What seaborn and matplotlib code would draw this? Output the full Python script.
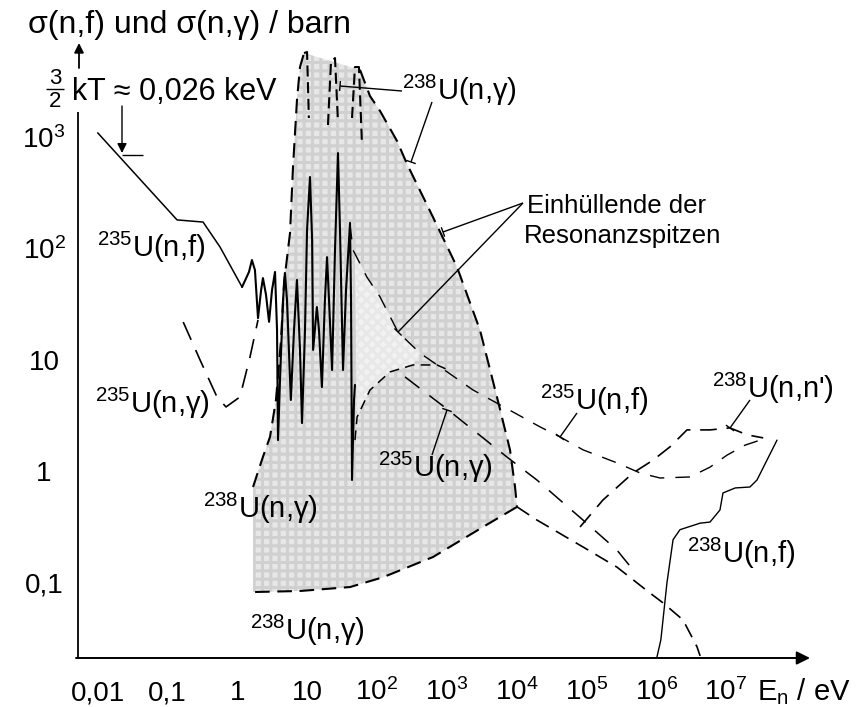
import numpy as np
import pandas as pd
import matplotlib
matplotlib.use("Agg")
import matplotlib.pyplot as plt
import seaborn as sns
from matplotlib.lines import Line2D
from matplotlib.ticker import NullLocator

# ---------------- data (E in eV, sigma in barn) ----------------
# 235U(n,f): thermal 1/v part and resolved resonances (solid)
u235f_low_E = [0.010, 0.137, 0.323, 0.565, 1.17]
u235f_low_s = [1120, 184, 176, 105, 45.7]
u235f_res_E = [1.17, 1.47, 1.62, 1.79, 1.98, 2.19, 2.33, 2.58, 2.85, 3.14, 3.47, 3.71, 3.83,
               4.09, 4.52, 4.81, 5.15, 5.85, 6.49, 7.16, 7.91, 8.45, 9.33, 9.98, 11.0, 11.8,
               12.2, 13.8, 14.8, 16.3, 18.0, 19.3, 20.6, 22.8, 25.1, 27.7, 29.6, 32.7, 36.1,
               41.2, 42.6, 44.0, 47.0, 48.5]
u235f_res_s = [45.7, 62.5, 80, 65, 24, 42.7, 55, 38.8, 22.2, 42.7, 62.5, 18.7, 1.91,
               6.65, 34.9, 61.3, 34.9, 4.39, 18.7, 53, 12.4, 2.72, 18.7, 149, 448, 121,
               12.4, 30.2, 18.7, 5.74, 34.9, 85, 34.9, 8.18, 98.6, 736, 149, 8.18, 42.7,
               173, 34.9, 0.835, 4.39, 6.0]
# 235U(n,gamma) at low energy (long dashes)
u235g_low_E = [0.168, 0.292, 0.512, 0.689, 1.09, 1.52, 1.98]
u235g_low_s = [22.1, 10.1, 4.67, 3.8, 4.67, 10.7, 23.1]
# 238U(n,gamma): envelope of resonance peaks (shaded region)
env238_left_E = [1.68, 2.33, 2.94, 3.58, 4.23, 4.67, 5.69, 6.28, 7.16, 7.91, 9.03]
env238_left_s = [0.722, 1.35, 2.04, 4.39, 15.3, 49.7, 140, 552, 2213, 4385, 5860]
env238_right_E = [57.3, 79.6, 111, 194, 270, 577, 1404, 3000, 5250, 8070, 9530, 10170]
env238_right_s = [4140, 2404, 1762, 947, 587, 221, 69.3, 18.7, 4.67, 1.56, 0.722, 0.478]
env238_bot_E = [10170, 3310, 637, 122, 41.2, 7.91, 1.68]
env238_bot_s = [0.478, 0.315, 0.169, 0.111, 0.0906, 0.0835, 0.0817]
# 238U(n,gamma) giant resonances (dashed)
pk1_E = [9.03, 9.98, 10.6]
pk1_s = [5860, 5990, 1524]
pk2_E = [19.9, 22.0, 25.1, 27.7]
pk2_s = [1318, 4864, 5284, 1403]
pk3_E = [44.0, 48.5, 55.3, 61.2]
pk3_s = [1524, 4385, 4385, 871]
# 235U(n,f): envelope of resonance peaks and continuation
u235f_hi_E = [41.2, 45.5, 71.9, 111, 200, 415, 804, 2387, 21800, 42100, 89900, 2.76e5,
              5.89e5, 1.14e6, 3.06e6, 5.92e6, 1.04e7, 1.88e7, 3.86e7]
u235f_hi_s = [166, 98.6, 56.2, 37.2, 18.0, 11.6, 8.71, 5.40, 2.51, 2.04, 1.56, 1.19,
              0.966, 0.870, 0.889, 1.09, 1.40, 1.72, 2.0]
# averaged curve rising out of the resonance region
hump_E = [48.5, 52.0, 79.6, 154, 329, 726, 1009]
hump_s = [1.91, 3.08, 5.40, 7.86, 9.08, 9.08, 8.28]
# 235U(n,gamma) above the resonance region
u235g_hi_E = [253, 1009, 7240, 19600, 89600, 2.75e5, 5.32e5]
u235g_hi_s = [7.08, 3.64, 1.35, 0.835, 0.364, 0.195, 0.117]
# 238U(n,gamma) above the resonance region
u238g_hi_E = [10170, 19600, 89800, 2.75e5, 8.18e5, 1.26e6, 2.43e6, 3.86e6, 4.27e6]
u238g_hi_s = [0.478, 0.364, 0.208, 0.137, 0.080, 0.0652, 0.0458, 0.0262, 0.0217]
# 238U(n,n')
u238nn_E = [81300, 1.73e5, 4.67e5, 9.03e5, 1.58e6, 2.77e6, 5.92e6, 1.14e7, 2.02e7, 3.42e7]
u238nn_s = [0.315, 0.551, 0.966, 1.26, 1.66, 2.36, 2.36, 2.46, 2.13, 2.0]
# 238U(n,f)
u238f_E = [1.03e6, 1.17e6, 1.43e6, 1.75e6, 2.20e6, 4.27e6, 5.92e6, 8.22e6, 9.08e6,
           1.36e7, 2.21e7, 2.79e7, 5.40e7]
u238f_s = [0.0213, 0.0303, 0.0988, 0.242, 0.298, 0.341, 0.349, 0.448, 0.638,
           0.708, 0.722, 0.835, 1.91]

xtick_vals = [1e-2, 1e-1, 1, 10, 1e2, 1e3, 1e4, 1e5, 1e6, 1e7]
xtick_labels = ["0,01", "0,1", "1", "10", "10$^2$", "10$^3$", "10$^4$", "10$^5$", "10$^6$", "10$^7$"]
ytick_vals = [0.1, 1, 10, 100, 1000]
ytick_labels = ["0,1", "1", "10", "10$^2$", "10$^3$"]

# ---------------- style ----------------
sns.set_style("white")
plt.rcParams["font.family"] = ["Liberation Sans", "DejaVu Sans"]
plt.rcParams["mathtext.fontset"] = "custom"
plt.rcParams["mathtext.rm"] = "Liberation Sans"
plt.rcParams["mathtext.it"] = "Liberation Sans:italic"
plt.rcParams["mathtext.bf"] = "Liberation Sans:bold"
plt.rcParams["lines.scale_dashes"] = False
plt.rcParams["text.color"] = "black"

W, H = 868, 707
fig = plt.figure(figsize=(W / 100, H / 100), dpi=100)
fig.patch.set_facecolor("white")
AX_L, AX_R, AX_T, AX_B = 76, 810, 43, 658
ax = fig.add_axes([AX_L / W, 1 - AX_B / H, (AX_R - AX_L) / W, (AX_B - AX_T) / H])
ax.set_xscale("log")
ax.set_yscale("log")
ax.set_xlim(10 ** ((AX_L - 237.3) / 69.8), 10 ** ((AX_R - 237.3) / 69.8))
ax.set_ylim(10 ** ((471.3 - AX_B) / 111), 10 ** ((471.3 - AX_T) / 111))
ax.set_facecolor("none")
for sp in ax.spines.values():
    sp.set_visible(False)

# shaded envelope of the 238U(n,gamma) resonances
polyE = [env238_left_E[0]] + env238_left_E + env238_right_E + env238_bot_E
polyS = [env238_bot_s[-1]] + env238_left_s + env238_right_s + env238_bot_s
plt.rcParams["hatch.linewidth"] = 2.2
ax.fill(polyE, polyS, facecolor="#e7e7e7", edgecolor="#d0d0d0", hatch="++", linewidth=0, zorder=0)
# lighter, finely hatched wedge
triE = u235f_hi_E[1:6] + hump_E[4::-1][:4] + [hump_E[0]]
triS = u235f_hi_s[1:6] + hump_s[4::-1][:4] + [u235f_hi_s[1]]
ax.fill(triE, triS, facecolor="#f2f2f2", edgecolor="#e8e8e8", hatch="xxx", linewidth=0, zorder=0.5)


def curve(E, s, lw, ls="-", z=2):
    df = pd.DataFrame({"E": E, "s": s})
    sns.lineplot(data=df, x="E", y="s", sort=False, estimator=None, ax=ax,
                 color="black", linewidth=lw, linestyle=ls, zorder=z)


bold = (0, (10.5, 5.5))
curve(u235f_low_E, u235f_low_s, 1.1)
curve(u235f_res_E, u235f_res_s, 1.5)
curve(u235g_low_E, u235g_low_s, 1.2, (0, (14, 8)))
curve(env238_left_E, env238_left_s, 1.5, bold)
curve(env238_right_E, env238_right_s, 1.5, bold)
curve(env238_bot_E, env238_bot_s, 1.5, bold)
curve(pk1_E, pk1_s, 1.5, (0, (8, 4)))
curve(pk2_E, pk2_s, 1.5, (0, (8, 4)))
curve(pk3_E, pk3_s, 1.5, (0, (8, 4)))
curve(u235f_hi_E, u235f_hi_s, 1.0, (0, (10.5, 8)))
curve(hump_E, hump_s, 1.1, (0, (7, 4.5)))
curve(u235g_hi_E, u235g_hi_s, 1.1, (0, (13, 9)))
curve(u238g_hi_E, u238g_hi_s, 1.2, (0, (10.5, 6)))
curve(u238nn_E, u238nn_s, 1.2, (0, (12, 7)))
curve(u238f_E, u238f_s, 1.0)

ax.set_xlabel("")
ax.set_ylabel("")
ax.set_xticks(xtick_vals)
ax.set_yticks(ytick_vals)
ax.set_xticklabels([])
ax.set_yticklabels([])
ax.xaxis.set_minor_locator(NullLocator())
ax.yaxis.set_minor_locator(NullLocator())
ax.tick_params(axis="both", which="major", direction="in", length=5.5, width=1.0, color="black")

FS = 20
for v, lab in zip(xtick_vals, xtick_labels):
    ax.annotate(lab, xy=(v, 0), xycoords=("data", "axes fraction"), xytext=(0, -30.5),
                textcoords="offset points", ha="center", va="baseline", fontsize=FS)
for v, lab in zip(ytick_vals, ytick_labels):
    ax.annotate(lab, xy=(0, v), xycoords=("axes fraction", "data"), xytext=(-23, -7.2),
                textcoords="offset points", ha="center", va="baseline", fontsize=FS)


# ---------------- axes lines, arrows and annotations (figure pixel helpers) ----------------
def fx(x):
    return x / W


def fy(y):
    return 1 - y / H


def fline(xs, ys, lw=1.0):
    fig.add_artist(Line2D([fx(x) for x in xs], [fy(y) for y in ys], transform=fig.transFigure,
                          color="black", lw=lw, solid_capstyle="butt"))


def farrow(x0, y0, x1, y1, lw=1.3, ms=16):
    fig.add_artist(matplotlib.patches.FancyArrowPatch(
        (fx(x0), fy(y0)), (fx(x1), fy(y1)), transform=fig.transFigure,
        arrowstyle="-|>", mutation_scale=ms, color="black", lw=lw, shrinkA=0, shrinkB=0))


def pointer(x0, y0, x1, y1, tick=10):
    fline([x0, x1], [y0, y1], lw=1.0)
    dx, dy = x1 - x0, y1 - y0
    L = np.hypot(dx, dy)
    nx, ny = -dy / L, dx / L
    fline([x1 - nx * tick / 2, x1 + nx * tick / 2], [y1 - ny * tick / 2, y1 + ny * tick / 2], lw=1.0)


def ftext(x, y, s, fs=21, **kw):
    fig.text(fx(x), fy(y), s, fontsize=fs, ha=kw.pop("ha", "left"), va=kw.pop("va", "baseline"), **kw)


# axes
farrow(AX_L, AX_B, AX_R, AX_B, lw=1.4, ms=20)
fline([78, 78], [AX_B, 112], lw=1.3)
farrow(79, 68, 79, 43, lw=1.3, ms=14)
ftext(757, 700, r"E$_\mathrm{n}$ / eV", fs=21)

# title and thermal-energy annotation
ftext(28, 33, "σ(n,f) und σ(n,γ) / barn", fs=23)
ftext(55, 84, "3", fs=16, ha="center")
ftext(55, 107, "2", fs=16, ha="center")
fline([46, 64], [89, 89], lw=1.0)
ftext(72, 100, "kT ≈ 0,026 keV", fs=22)
farrow(122, 106, 122, 153, lw=1.0, ms=14)
fline([122, 143], [155, 155], lw=1.0)

# curve labels
ftext(97, 257, r"$^{235}$U(n,f)")
ftext(95, 413, r"$^{235}$U(n,γ)")
ftext(203, 518, r"$^{238}$U(n,γ)")
ftext(250, 640, r"$^{238}$U(n,γ)")
ftext(378, 477, r"$^{235}$U(n,γ)")
ftext(540, 410, r"$^{235}$U(n,f)")
ftext(712, 398, r"$^{238}$U(n,n')")
ftext(687, 563, r"$^{238}$U(n,f)")
ftext(402, 100, r"$^{238}$U(n,γ)")
ftext(527, 213, "Einhüllende der", fs=18.5)
ftext(524, 243, "Resonanzspitzen", fs=18.5)

# pointer lines
pointer(402, 91, 340, 86)
pointer(432, 102, 411, 162)
pointer(523, 203, 443, 232)
pointer(523, 203, 398, 332)
pointer(577, 413, 560, 437)
pointer(432, 455, 447, 410)
pointer(750, 400, 730, 428)

fig.savefig("out.png", dpi=100, facecolor="white")
